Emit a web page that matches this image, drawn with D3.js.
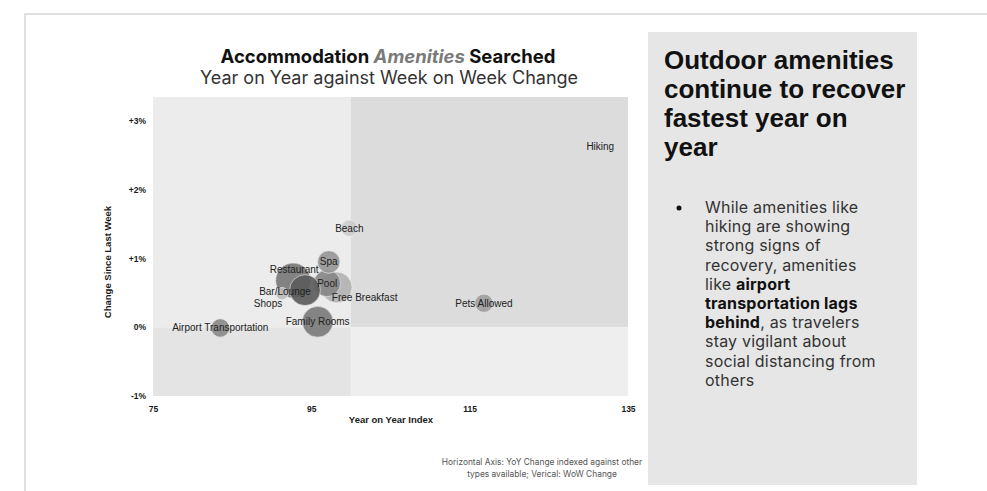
<!DOCTYPE html>
<html>
<head>
<meta charset="utf-8">
<script src="https://cdn.jsdelivr.net/npm/d3@7"></script>
<style>
  body { margin: 0; background: #fff; }
  svg { display: block; }
</style>
</head>
<body>
<svg id="chart" width="987" height="491"></svg>
<script>
// amenity data
var amenities = ['Airport Transportation', 'Family Rooms', 'Pets Allowed', 'Beach', 'Spa',
                 'Free Breakfast', 'Restaurant', 'Pool', 'Bar/Lounge', 'Shops', 'Hiking'];
var yoyIndex  = [83.5, 95.8, 116.8, 99.8, 97.2, 98.2, 92.7, 97.0, 94.2, 91.3, 131.5];
var wowChange = [-0.01, 0.08, 0.35, 1.44, 0.95, 0.58, 0.68, 0.64, 0.54, 0.49, 2.63];
var searchVol = [80, 225, 80, 64, 120, 225, 290, 170, 225, 36, 0];
var shade     = ['#8a8a8a', '#7b7b7b', '#a0a0a0', '#cccccc', '#979797', '#b2b2b2',
                 '#787878', '#878787', '#5c5c5c', '#bdbdbd', '#bbbbbb'];
var xTicks = [75, 95, 115, 135];
var yTicks = [-1, 0, 1, 2, 3];

// where a label sits relative to its bubble
var labelShift = {
    'Restaurant': [1, -11],
    'Shops': [-14, 10],
    'Free Breakfast': [28, 10],
    'Bar/Lounge': [-20, 1]
};

var svg = d3.select('#chart');

// page frame
svg.append('path')
    .attr('d', 'M25,491 V14 H987')
    .attr('fill', 'none')
    .attr('stroke', '#d6d6d6')
    .attr('stroke-width', 1.5);

var x = d3.scaleLinear().domain([75, 135]).range([153, 628]);
var y = d3.scaleLinear().domain([-1, 3.35]).range([396, 97]);
var r = d3.scaleSqrt().domain([0, 290]).range([0, 17.5]);

// quadrant backgrounds
var quads = [
    { x0: 75, x1: 100, y0: 0, y1: 3.35, fill: '#ececec' },
    { x0: 100, x1: 135, y0: 0, y1: 3.35, fill: '#dcdcdc' },
    { x0: 75, x1: 100, y0: -1, y1: 0, fill: '#e4e4e4' },
    { x0: 100, x1: 135, y0: -1, y1: 0, fill: '#eeeeee' }
];
svg.append('g').selectAll('rect')
    .data(quads)
    .enter().append('rect')
    .attr('x', function (d) { return x(d.x0); })
    .attr('y', function (d) { return y(d.y1); })
    .attr('width', function (d) { return x(d.x1) - x(d.x0); })
    .attr('height', function (d) { return y(d.y0) - y(d.y1); })
    .attr('fill', function (d) { return d.fill; });

// titles
var title = svg.append('text')
    .attr('x', 388).attr('y', 63)
    .attr('text-anchor', 'middle')
    .style('font-family', 'Inter, sans-serif')
    .style('font-size', '18.5px')
    .style('font-weight', 700)
    .attr('fill', '#111');
title.append('tspan').text('Accommodation ');
title.append('tspan').text('Amenities').attr('fill', '#7a7a7a').style('font-style', 'italic');
title.append('tspan').text(' Searched');

svg.append('text')
    .attr('x', 389).attr('y', 84)
    .attr('text-anchor', 'middle')
    .style('font-family', 'Inter, sans-serif')
    .style('font-size', '18px')
    .attr('fill', '#333')
    .text('Year on Year against Week on Week Change');

// axes
var xAxis = svg.append('g')
    .attr('transform', 'translate(0,403)')
    .call(d3.axisBottom(x).tickValues(xTicks).tickSize(0));
var yAxis = svg.append('g')
    .attr('transform', 'translate(149,0)')
    .call(d3.axisLeft(y).tickValues(yTicks).tickSize(0)
        .tickFormat(function (d) { return d > 0 ? '+' + d + '%' : d + '%'; }));
[xAxis, yAxis].forEach(function (a) {
    a.select('.domain').remove();
    a.selectAll('text')
        .style('font-family', '"Liberation Sans", Arial, sans-serif')
        .style('font-size', '8.5px')
        .style('font-weight', 700)
        .attr('fill', '#1a1a1a');
});

svg.append('text')
    .attr('x', 391).attr('y', 423)
    .attr('text-anchor', 'middle')
    .style('font-family', '"Liberation Sans", Arial, sans-serif')
    .style('font-size', '9.5px')
    .style('font-weight', 700)
    .attr('fill', '#1a1a1a')
    .text('Year on Year Index');

svg.append('text')
    .attr('transform', 'translate(111,262) rotate(-90)')
    .attr('text-anchor', 'middle')
    .style('font-family', '"Liberation Sans", Arial, sans-serif')
    .style('font-size', '9.5px')
    .style('font-weight', 700)
    .attr('fill', '#1a1a1a')
    .text('Change Since Last Week');

// bubbles
var points = amenities.map(function (name, i) {
    return { name: name, x: yoyIndex[i], y: wowChange[i], size: searchVol[i], fill: shade[i] };
});
var drawOrder = ['Free Breakfast', 'Restaurant', 'Pool', 'Bar/Lounge', 'Spa', 'Shops',
                 'Beach', 'Family Rooms', 'Airport Transportation', 'Pets Allowed', 'Hiking'];
var sorted = points.slice().sort(function (a, b) {
    return drawOrder.indexOf(a.name) - drawOrder.indexOf(b.name);
});

svg.append('g').selectAll('circle')
    .data(sorted)
    .enter().append('circle')
    .attr('cx', function (d) { return x(d.x); })
    .attr('cy', function (d) { return y(d.y); })
    .attr('r', function (d) { return r(d.size); })
    .attr('fill', function (d) { return d.fill; })
    .attr('fill-opacity', 0.92)
    .attr('stroke', '#f4f4f4')
    .attr('stroke-width', 0.6);

svg.append('g').selectAll('text')
    .data(points)
    .enter().append('text')
    .attr('x', function (d) { return x(d.x) + (labelShift[d.name] ? labelShift[d.name][0] : 0); })
    .attr('y', function (d) { return y(d.y) + (labelShift[d.name] ? labelShift[d.name][1] : 0); })
    .attr('dy', '0.35em')
    .attr('text-anchor', 'middle')
    .style('font-family', '"Liberation Sans", Arial, sans-serif')
    .style('font-size', '10px')
    .attr('fill', '#222')
    .text(function (d) { return d.name; });

// footnote
svg.append('g').selectAll('text')
    .data(['Horizontal Axis: YoY Change indexed against other', 'types available; Verical: WoW Change'])
    .enter().append('text')
    .attr('x', 542)
    .attr('y', function (d, i) { return 465 + i * 12; })
    .attr('text-anchor', 'middle')
    .style('font-family', 'Inter, sans-serif')
    .style('font-size', '8.4px')
    .attr('fill', '#555')
    .text(function (d) { return d; });

// commentary panel
svg.append('rect')
    .attr('x', 648).attr('y', 32)
    .attr('width', 269).attr('height', 453)
    .attr('fill', '#e6e6e6');

svg.append('g').selectAll('text')
    .data(['Outdoor amenities', 'continue to recover', 'fastest year on', 'year'])
    .enter().append('text')
    .attr('x', 664)
    .attr('y', function (d, i) { return 69 + i * 29; })
    .style('font-family', '"Liberation Sans", Arial, sans-serif')
    .style('font-size', '26px')
    .style('font-weight', 700)
    .attr('fill', '#111')
    .text(function (d) { return d; });

svg.append('circle')
    .attr('cx', 679).attr('cy', 208)
    .attr('r', 2.5)
    .attr('fill', '#111');

var bullet = [
    [['While amenities like', 400]],
    [['hiking are showing', 400]],
    [['strong signs of', 400]],
    [['recovery, amenities', 400]],
    [['like ', 400], ['airport', 700]],
    [['transportation lags', 700]],
    [['behind', 700], [', as travelers', 400]],
    [['stay vigilant about', 400]],
    [['social distancing from', 400]],
    [['others', 400]]
];
var lines = svg.append('g').selectAll('text')
    .data(bullet)
    .enter().append('text')
    .attr('x', 705)
    .attr('y', function (d, i) { return 213 + i * 19.2; })
    .style('font-family', 'Inter, sans-serif')
    .style('font-size', '16px')
    .style('letter-spacing', '0.2px')
    .attr('fill', '#333');
lines.selectAll('tspan')
    .data(function (d) { return d; })
    .enter().append('tspan')
    .style('font-weight', function (d) { return d[1]; })
    .attr('fill', function (d) { return d[1] === 700 ? '#111' : '#333'; })
    .text(function (d) { return d[0]; });
</script>
</body>
</html>
